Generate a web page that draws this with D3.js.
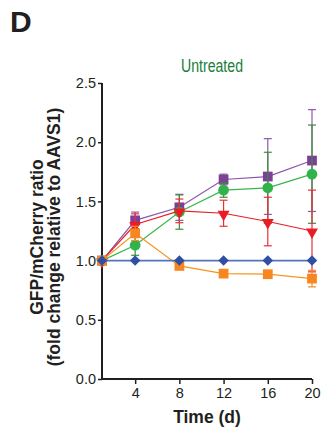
<!DOCTYPE html>
<html><head><meta charset="utf-8">
<script src="https://cdn.jsdelivr.net/npm/d3@7"></script>
<style>body{margin:0;background:#fff}svg{display:block}</style>
</head><body>
<svg id="c" width="321" height="428"></svg>
<script>
const days = [1, 4, 8, 12, 16, 20];
const xTicks = [4, 8, 12, 16, 20];
const yTicks = [0, 0.5, 1.0, 1.5, 2.0, 2.5];
const purple = [1.0, 1.34, 1.45, 1.685, 1.71, 1.845];
const purpleErr = [0, 0.07, 0.11, 0.045, 0.32, 0.43];
const green = [1.0, 1.13, 1.41, 1.595, 1.615, 1.73];
const greenErr = [0, 0.085, 0.145, 0.06, 0.30, 0.415];
const red = [1.0, 1.305, 1.42, 1.40, 1.33, 1.25];
const redErr = [0, 0.09, 0.1, 0.11, 0.205, 0.345];
const orange = [1.0, 1.23, 0.955, 0.89, 0.885, 0.848];
const orangeErr = [0, 0.06, 0.02, 0.015, 0.02, 0.07];
const blue = [1.0, 1.0, 1.0, 1.0, 1.0, 1.0];
const blueErr = [0, 0, 0, 0, 0, 0];

const svg = d3.select("#c");
const font = "'Liberation Sans', Arial, Helvetica, sans-serif";
const x = d3.scaleLinear().domain([1, 20]).range([102, 312]);
const y = d3.scaleLinear().domain([0, 2.5]).range([379, 83]);

svg.append("text").attr("x", 10).attr("y", 32).attr("font-family", font)
  .attr("font-weight", "bold").attr("font-size", 30).attr("fill", "#231f20").text("D");
svg.append("text").attr("x", 181).attr("y", 72)
  .attr("font-family", font).attr("font-size", 17.5).attr("fill", "#1a7d3c")
  .attr("textLength", 62).attr("lengthAdjust", "spacingAndGlyphs").text("Untreated");

const gx = svg.append("g").attr("transform", "translate(0,379)")
  .call(d3.axisBottom(x).tickValues(xTicks).tickSize(5).tickPadding(4));
const gy = svg.append("g").attr("transform", "translate(102,0)")
  .call(d3.axisLeft(y).tickValues(yTicks).tickFormat(d3.format(".1f")).tickSize(4).tickPadding(2));
[gx, gy].forEach(g => {
  g.select(".domain").attr("stroke", "#231f20").attr("stroke-width", 2);
  g.selectAll(".tick line").attr("stroke", "#231f20").attr("stroke-width", 1.5);
  g.selectAll(".tick text").attr("font-family", font).attr("font-size", 14.5).attr("fill", "#231f20");
});
gx.select(".domain").attr("d", "M102,0H312");
gy.select(".domain").attr("d", "M0,379V83");

svg.append("text").attr("x", 207).attr("y", 423).attr("text-anchor", "middle")
  .attr("font-family", font).attr("font-weight", "bold").attr("font-size", 17.5).attr("fill", "#231f20").text("Time (d)");
const yl = svg.append("text").attr("transform", "translate(0,237) rotate(-90)")
  .attr("text-anchor", "middle").attr("font-family", font).attr("font-weight", "bold")
  .attr("font-size", 17.5).attr("fill", "#231f20");
yl.append("tspan").attr("x", 0).attr("y", 43).text("GFP/mCherry ratio");
yl.append("tspan").attr("x", 0).attr("y", 60).text("(fold change relative to AAVS1)");

const series = [
  {v: purple, e: purpleErr, c: "#7d3f98", lc: "#8a55a8", ec: "#8e5aa8", sym: d3.symbolSquare, s: 95, lw: 1.2},
  {v: green, e: greenErr, c: "#2fb34a", lc: "#3cb44e", ec: "#3c8c3c", sym: d3.symbolCircle, s: 90, lw: 1.2},
  {v: red, e: redErr, c: "#ec1c24", lc: "#ec1c24", ec: "#e8303a", sym: d3.symbolTriangle, s: 62, rot: 180, lw: 1.2},
  {v: orange, e: orangeErr, c: "#f7861f", lc: "#f7941d", ec: "#f28a2c", sym: d3.symbolSquare, s: 95, lw: 1.2},
  {v: blue, e: blueErr, c: "#2e4fa3", lc: "#5573bb", ec: "#2e4fa3", sym: d3.symbolSquare, s: 55, rot: 45, lw: 1.8}
];
const line = d3.line().x((d, i) => x(days[i])).y(d => y(d));
series.forEach(s => {
  const g = svg.append("g");
  g.append("path").attr("d", line(s.v)).attr("fill", "none").attr("stroke", s.lc).attr("stroke-width", s.lw);
  s.v.forEach((v, i) => {
    if (s.e[i] > 0) {
      const cx = x(days[i]), y1 = y(v + s.e[i]), y2 = y(v - s.e[i]);
      g.append("line").attr("x1", cx).attr("x2", cx).attr("y1", y1).attr("y2", y2).attr("stroke", s.ec).attr("stroke-width", 1.2);
      [y1, y2].forEach(yy => g.append("line").attr("x1", cx - 4).attr("x2", cx + 4).attr("y1", yy).attr("y2", yy).attr("stroke", s.ec).attr("stroke-width", 1.2));
    }
  });
  const dy = s.rot === 180 ? 1 : 0;
  g.selectAll("path.m").data(s.v).join("path").attr("class", "m")
    .attr("d", d3.symbol().type(s.sym).size(s.s))
    .attr("transform", (d, i) => `translate(${x(days[i])},${y(d) + dy})` + (s.rot ? ` rotate(${s.rot})` : ""))
    .attr("fill", s.c);
});
</script>
</body></html>
